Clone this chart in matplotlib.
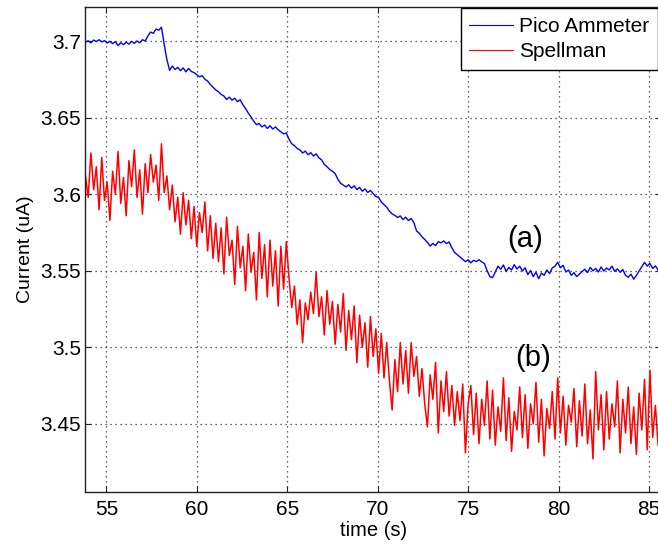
"""
Pico Ammeter vs Spellman current readout over time.
"""

import matplotlib
matplotlib.use("Agg")
import matplotlib.pyplot as plt
import numpy as np


# sample grid (s)
T0 = 53.85
DT = 0.15

# Pico Ammeter current (uA), one value per sample
pico = [
    3.6995, 3.7003, 3.6990, 3.7008, 3.6998, 3.7010, 3.6996, 3.7004, 3.6989, 3.7000,
    3.6985, 3.6997, 3.6972, 3.6990, 3.6978, 3.6994, 3.6981, 3.6999, 3.6986, 3.7002,
    3.6990, 3.7010, 3.7002, 3.7035, 3.7060, 3.7052, 3.7080, 3.7072, 3.7092, 3.6980,
    3.6880, 3.6810, 3.6838, 3.6815, 3.6830, 3.6808, 3.6826, 3.6800, 3.6822, 3.6803,
    3.6795, 3.6782, 3.6768, 3.6775, 3.6752, 3.6740, 3.6718, 3.6700, 3.6682, 3.6670,
    3.6652, 3.6642, 3.6620, 3.6635, 3.6615, 3.6628, 3.6605, 3.6618, 3.6585, 3.6560,
    3.6530, 3.6505, 3.6478, 3.6455, 3.6462, 3.6440, 3.6452, 3.6430, 3.6448, 3.6426,
    3.6440, 3.6422, 3.6408, 3.6395, 3.6400, 3.6360, 3.6330, 3.6318, 3.6300, 3.6290,
    3.6270, 3.6282, 3.6258, 3.6272, 3.6250, 3.6264, 3.6238, 3.6225, 3.6195, 3.6180,
    3.6162, 3.6150, 3.6135, 3.6098, 3.6072, 3.6060, 3.6048, 3.6062, 3.6040, 3.6055,
    3.6030, 3.6045, 3.6020, 3.6035, 3.6012, 3.6025, 3.6005, 3.5985, 3.5980, 3.5950,
    3.5932, 3.5915, 3.5890, 3.5872, 3.5862, 3.5848, 3.5858, 3.5835, 3.5850, 3.5828,
    3.5842, 3.5815, 3.5760, 3.5745, 3.5722, 3.5705, 3.5685, 3.5662, 3.5678, 3.5665,
    3.5690, 3.5682, 3.5695, 3.5678, 3.5688, 3.5650, 3.5620, 3.5605, 3.5590, 3.5575,
    3.5560, 3.5572, 3.5552, 3.5568, 3.5560, 3.5572, 3.5558, 3.5548, 3.5500, 3.5462,
    3.5455, 3.5492, 3.5530, 3.5510, 3.5538, 3.5495, 3.5522, 3.5505, 3.5540, 3.5512,
    3.5530, 3.5498, 3.5520, 3.5475, 3.5502, 3.5462, 3.5490, 3.5448, 3.5485, 3.5470,
    3.5505, 3.5482, 3.5518, 3.5530, 3.5555, 3.5520, 3.5535, 3.5492, 3.5505, 3.5470,
    3.5488, 3.5462, 3.5478, 3.5495, 3.5510, 3.5488, 3.5522, 3.5500, 3.5515, 3.5492,
    3.5525, 3.5498, 3.5518, 3.5505, 3.5530, 3.5496, 3.5512, 3.5490, 3.5508, 3.5470,
    3.5458, 3.5478, 3.5445, 3.5470, 3.5498, 3.5525, 3.5555, 3.5530, 3.5548, 3.5515,
    3.5532, 3.5505,
]

# Spellman current (uA), one value per sample
spellman = [
    3.612, 3.598, 3.627, 3.603, 3.618, 3.590, 3.624, 3.596, 3.608, 3.583,
    3.615, 3.600, 3.628, 3.594, 3.611, 3.586, 3.622, 3.605, 3.629, 3.598,
    3.616, 3.587, 3.620, 3.601, 3.626, 3.608, 3.619, 3.596, 3.633, 3.601,
    3.612, 3.590, 3.606, 3.582, 3.598, 3.574, 3.601, 3.580, 3.596, 3.571,
    3.592, 3.566, 3.588, 3.575, 3.595, 3.563, 3.586, 3.558, 3.581, 3.556,
    3.578, 3.548, 3.585, 3.560, 3.570, 3.541, 3.579, 3.552, 3.566, 3.537,
    3.574, 3.549, 3.562, 3.531, 3.575, 3.545, 3.567, 3.533, 3.570, 3.540,
    3.563, 3.527, 3.566, 3.538, 3.569, 3.545, 3.526, 3.540, 3.515, 3.531,
    3.503, 3.529, 3.518, 3.536, 3.522, 3.549, 3.520, 3.533, 3.508, 3.537,
    3.515, 3.530, 3.502, 3.528, 3.510, 3.535, 3.498, 3.524, 3.505, 3.527,
    3.490, 3.521, 3.500, 3.516, 3.487, 3.520, 3.494, 3.512, 3.483, 3.509,
    3.480, 3.503, 3.478, 3.459, 3.492, 3.471, 3.503, 3.476, 3.498, 3.470,
    3.503, 3.481, 3.494, 3.468, 3.486, 3.463, 3.448, 3.482, 3.466, 3.490,
    3.444, 3.478, 3.458, 3.484, 3.455, 3.475, 3.449, 3.471, 3.452, 3.476,
    3.431, 3.463, 3.475, 3.443, 3.470, 3.437, 3.466, 3.449, 3.478, 3.440,
    3.472, 3.436, 3.461, 3.445, 3.480, 3.439, 3.467, 3.432, 3.458, 3.446,
    3.474, 3.441, 3.469, 3.434, 3.463, 3.450, 3.477, 3.438, 3.466, 3.429,
    3.460, 3.447, 3.471, 3.440, 3.480, 3.444, 3.468, 3.436, 3.462, 3.451,
    3.473, 3.435, 3.465, 3.442, 3.476, 3.437, 3.459, 3.427, 3.484, 3.446,
    3.469, 3.433, 3.471, 3.440, 3.463, 3.448, 3.478, 3.431, 3.466, 3.444,
    3.474, 3.437, 3.461, 3.430, 3.470, 3.446, 3.479, 3.433, 3.485, 3.441,
    3.462, 3.436,
]

x_ticks = [55, 60, 65, 70, 75, 80, 85]
y_ticks = [3.45, 3.5, 3.55, 3.6, 3.65, 3.7]
y_tick_labels = ["3.45", "3.5", "3.55", "3.6", "3.65", "3.7"]

labels = ["Pico Ammeter", "Spellman"]
notes = [("(a)", 78.13, 3.571), ("(b)", 78.57, 3.493)]


def main():
    plt.rcParams["font.family"] = ["Liberation Sans", "DejaVu Sans"]

    t_pico = T0 + DT * np.arange(len(pico))
    t_spell = T0 + DT * np.arange(len(spellman))

    fig = plt.figure(figsize=(6.58, 5.44), dpi=100)
    fig.patch.set_facecolor("white")
    ax = fig.add_axes([85.3 / 658, 52 / 544, (661 - 85.3) / 658, 485 / 544])

    ax.plot(t_pico, pico, color="#0000ff", lw=1.0, label=labels[0])
    ax.plot(t_spell, spellman, color="#ff0000", lw=1.1, label=labels[1])

    ax.set_xlim(53.84, 85.66)
    ax.set_ylim(3.4054, 3.7224)
    ax.set_xticks(x_ticks)
    ax.set_yticks(y_ticks)
    ax.set_yticklabels(y_tick_labels)

    ax.grid(True, color="#333333", linestyle=(0, (1, 3)), linewidth=0.9)
    ax.tick_params(direction="in", length=4, width=0.8, labelsize=15,
                   top=True, right=True, colors="#222222", labelcolor="black")
    ax.tick_params(axis="x", pad=6)
    ax.tick_params(axis="y", pad=3)
    for sp in ax.spines.values():
        sp.set_color("#222222")
        sp.set_linewidth(1.0)

    ax.set_xlabel("time (s)", fontsize=14.5, labelpad=1)
    ax.set_ylabel("Current (uA)", fontsize=14, labelpad=5)

    for txt, tx, ty in notes:
        ax.text(tx, ty, txt, fontsize=21, ha="center", va="center")

    leg = ax.legend(loc="upper right",
                    bbox_to_anchor=(657.5 / 658, 1 - 8.5 / 544),
                    bbox_transform=fig.transFigure,
                    borderaxespad=0, fontsize=15, fancybox=False,
                    framealpha=1, edgecolor="black", handlelength=2.1,
                    handletextpad=0.3, borderpad=0.4, labelspacing=0.32)
    leg.get_frame().set_linewidth(1.0)
    for line in leg.get_lines():
        line.set_linewidth(0.8)

    fig.savefig("out.png", dpi=100, facecolor="white")


if __name__ == "__main__":
    main()
